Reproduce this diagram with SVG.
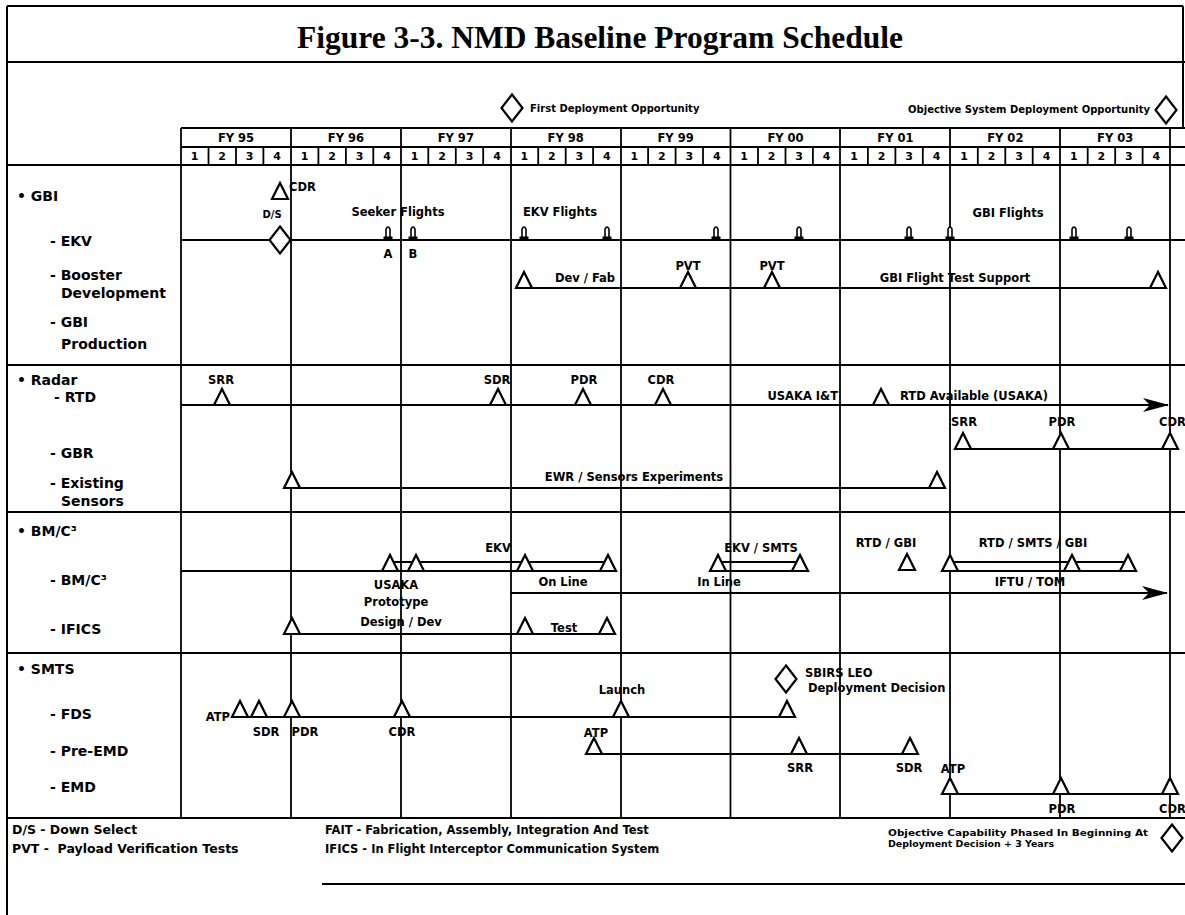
<svg xmlns="http://www.w3.org/2000/svg" width="1185" height="915" viewBox="0 0 1185 915">
<style>
.ln{stroke:#000;stroke-width:2;fill:none}
.gl{stroke:#000;stroke-width:1.8;fill:none}
.mk{fill:#fff;stroke:#000;stroke-width:2.2}
text{font-family:"DejaVu Sans","Liberation Sans",sans-serif;font-weight:bold;fill:#000}
.title{font-family:"Liberation Serif","Times New Roman",serif;font-size:31.5px;text-anchor:middle}
.lab{font-size:14px}
.s{font-size:11.5px;text-anchor:middle}
.sl{font-size:11.5px}
.fy{font-size:11.5px;text-anchor:middle}
.q{font-size:11px;text-anchor:middle}
.tiny{font-size:10px}
.lg{font-size:11.5px}
.lgl{font-size:12.5px}
.lg2{font-size:9.5px}
</style>
<defs>
<path id="tri" class="mk" d="M0,-16 L-8,0 L8,0 Z"/>
<path id="dia" class="mk" d="M0,-13.5 L10.5,0 L0,13.5 L-10.5,0 Z"/>
<g id="rk"><path d="M-2,-2 L-2,-11 Q0,-15 2,-11 L2,-2 Z" fill="#fff" stroke="#000" stroke-width="1.6"/><rect x="-4.5" y="-3.5" width="9" height="3.5" fill="#000"/></g>
<marker id="ah" viewBox="0 0 26 14" refX="25" refY="7" markerWidth="26" markerHeight="14" markerUnits="userSpaceOnUse" orient="auto"><path d="M0,0 L26,7 L0,14 L7,7 Z" fill="#000"/></marker>
</defs>
<rect x="0" y="0" width="1185" height="915" fill="#fff"/>

<g id="frame">
<line class="ln" x1="7" y1="6" x2="1183" y2="6"/>
<line class="ln" x1="7" y1="6" x2="7" y2="915"/>
<line class="ln" x1="1183" y1="6" x2="1183" y2="128"/>
<line class="ln" x1="7" y1="62" x2="1185" y2="62"/>
<text class="title" x="600" y="48">Figure 3-3. NMD Baseline Program Schedule</text>
</g>

<g id="deploy-first"><use href="#dia" x="512" y="108"/><text class="tiny" x="530" y="112">First Deployment Opportunity</text></g>
<g id="deploy-objective"><use href="#dia" x="1166" y="110"/><text class="tiny" x="1150" y="113" text-anchor="end" font-size="10.5">Objective System Deployment Opportunity</text></g>

<g id="header">
<line class="gl" x1="181" y1="128" x2="1185" y2="128"/>
<line class="gl" x1="181" y1="147" x2="1185" y2="147"/>
<g class="gl">
<line x1="208.5" y1="147" x2="208.5" y2="165"/><line x1="236" y1="147" x2="236" y2="165"/><line x1="263.4" y1="147" x2="263.4" y2="165"/>
<line x1="318.4" y1="147" x2="318.4" y2="165"/><line x1="345.9" y1="147" x2="345.9" y2="165"/><line x1="373.3" y1="147" x2="373.3" y2="165"/>
<line x1="428.3" y1="147" x2="428.3" y2="165"/><line x1="455.8" y1="147" x2="455.8" y2="165"/><line x1="483.2" y1="147" x2="483.2" y2="165"/>
<line x1="538.2" y1="147" x2="538.2" y2="165"/><line x1="565.7" y1="147" x2="565.7" y2="165"/><line x1="593.1" y1="147" x2="593.1" y2="165"/>
<line x1="648.1" y1="147" x2="648.1" y2="165"/><line x1="675.6" y1="147" x2="675.6" y2="165"/><line x1="703" y1="147" x2="703" y2="165"/>
<line x1="758" y1="147" x2="758" y2="165"/><line x1="785.5" y1="147" x2="785.5" y2="165"/><line x1="812.9" y1="147" x2="812.9" y2="165"/>
<line x1="867.9" y1="147" x2="867.9" y2="165"/><line x1="895.4" y1="147" x2="895.4" y2="165"/><line x1="922.8" y1="147" x2="922.8" y2="165"/>
<line x1="977.8" y1="147" x2="977.8" y2="165"/><line x1="1005.3" y1="147" x2="1005.3" y2="165"/><line x1="1032.7" y1="147" x2="1032.7" y2="165"/>
<line x1="1087.7" y1="147" x2="1087.7" y2="165"/><line x1="1115.2" y1="147" x2="1115.2" y2="165"/><line x1="1142.6" y1="147" x2="1142.6" y2="165"/>
</g>
<text class="fy" x="236" y="142">FY 95</text><text class="fy" x="345.9" y="142">FY 96</text><text class="fy" x="455.8" y="142">FY 97</text>
<text class="fy" x="565.7" y="142">FY 98</text><text class="fy" x="675.6" y="142">FY 99</text><text class="fy" x="785.5" y="142">FY 00</text>
<text class="fy" x="895.4" y="142">FY 01</text><text class="fy" x="1005.3" y="142">FY 02</text><text class="fy" x="1115.2" y="142">FY 03</text>
<g class="q">
<text x="194.7" y="160">1</text><text x="222.2" y="160">2</text><text x="249.7" y="160">3</text><text x="277.2" y="160">4</text>
<text x="304.6" y="160">1</text><text x="332.1" y="160">2</text><text x="359.6" y="160">3</text><text x="387.1" y="160">4</text>
<text x="414.5" y="160">1</text><text x="442" y="160">2</text><text x="469.5" y="160">3</text><text x="497" y="160">4</text>
<text x="524.4" y="160">1</text><text x="551.9" y="160">2</text><text x="579.4" y="160">3</text><text x="606.9" y="160">4</text>
<text x="634.3" y="160">1</text><text x="661.8" y="160">2</text><text x="689.3" y="160">3</text><text x="716.8" y="160">4</text>
<text x="744.2" y="160">1</text><text x="771.7" y="160">2</text><text x="799.2" y="160">3</text><text x="826.7" y="160">4</text>
<text x="854.1" y="160">1</text><text x="881.6" y="160">2</text><text x="909.1" y="160">3</text><text x="936.6" y="160">4</text>
<text x="964" y="160">1</text><text x="991.5" y="160">2</text><text x="1019" y="160">3</text><text x="1046.5" y="160">4</text>
<text x="1073.9" y="160">1</text><text x="1101.4" y="160">2</text><text x="1128.9" y="160">3</text><text x="1156.4" y="160">4</text>
</g>
</g>

<g id="grid">
<line class="ln" x1="7" y1="165" x2="1185" y2="165"/>
<line class="ln" x1="7" y1="365" x2="1185" y2="365"/>
<line class="ln" x1="7" y1="512" x2="1185" y2="512"/>
<line class="ln" x1="7" y1="653" x2="1185" y2="653"/>
<line class="ln" x1="7" y1="818" x2="1185" y2="818"/>
<g class="gl">
<line x1="181" y1="128" x2="181" y2="818"/><line x1="291" y1="128" x2="291" y2="818"/><line x1="401" y1="128" x2="401" y2="818"/>
<line x1="511" y1="128" x2="511" y2="818"/><line x1="621" y1="128" x2="621" y2="818"/><line x1="730.5" y1="128" x2="730.5" y2="818"/>
<line x1="840" y1="128" x2="840" y2="818"/><line x1="950" y1="128" x2="950" y2="818"/><line x1="1060" y1="128" x2="1060" y2="818"/>
<line x1="1170" y1="128" x2="1170" y2="818"/>
</g>
</g>

<g id="labels">
<text class="lab" x="17" y="201">• GBI</text>
<text class="lab" x="50" y="246">- EKV</text>
<text class="lab" x="50" y="280">- Booster</text>
<text class="lab" x="61" y="298">Development</text>
<text class="lab" x="50" y="327">- GBI</text>
<text class="lab" x="61" y="349">Production</text>
<text class="lab" x="17" y="385">• Radar</text>
<text class="lab" x="54" y="402">- RTD</text>
<text class="lab" x="50" y="458">- GBR</text>
<text class="lab" x="50" y="488">- Existing</text>
<text class="lab" x="61" y="506">Sensors</text>
<text class="lab" x="17" y="536">• BM/C³</text>
<text class="lab" x="50" y="585">- BM/C³</text>
<text class="lab" x="50" y="634">- IFICS</text>
<text class="lab" x="17" y="674">• SMTS</text>
<text class="lab" x="50" y="719">- FDS</text>
<text class="lab" x="50" y="756">- Pre-EMD</text>
<text class="lab" x="50" y="792">- EMD</text>
</g>

<g id="connectors">
<line class="ln" x1="181" y1="240" x2="1185" y2="240"/>
<line class="ln" x1="517" y1="288" x2="1163" y2="288"/>
<line class="ln" x1="181" y1="405" x2="1168" y2="405" marker-end="url(#ah)"/>
<line class="ln" x1="955" y1="449" x2="1175" y2="449"/>
<line class="ln" x1="286" y1="488" x2="943" y2="488"/>
<line class="ln" x1="181" y1="571" x2="616" y2="571"/>
<line class="ln" x1="390" y1="562" x2="608" y2="562"/>
<line class="ln" x1="718" y1="562" x2="800" y2="562"/>
<line class="ln" x1="712" y1="571" x2="806" y2="571"/>
<line class="ln" x1="950" y1="562" x2="1128" y2="562"/>
<line class="ln" x1="944" y1="571" x2="1134" y2="571"/>
<line class="ln" x1="511" y1="593" x2="1167" y2="593" marker-end="url(#ah)"/>
<line class="ln" x1="286" y1="634" x2="613" y2="634"/>
<line class="ln" x1="234" y1="717" x2="793" y2="717"/>
<line class="ln" x1="588" y1="754" x2="916" y2="754"/>
<line class="ln" x1="944" y1="794" x2="1177" y2="794"/>
</g>

<g id="gbi-cdr"><use href="#tri" x="280" y="199"/><text class="sl" x="289" y="191">CDR</text></g>
<g id="gbi-ds"><text class="tiny" x="272" y="218" text-anchor="middle">D/S</text><use href="#dia" x="280" y="240"/></g>
<g id="seeker-flights"><text class="s" x="398" y="216">Seeker Flights</text>
<use href="#rk" x="388" y="240"/><use href="#rk" x="413" y="240"/>
<text class="s" x="388" y="258">A</text><text class="s" x="413" y="258">B</text></g>
<g id="ekv-flights"><text class="s" x="560" y="216">EKV Flights</text>
<use href="#rk" x="524" y="240"/><use href="#rk" x="607" y="240"/><use href="#rk" x="716" y="240"/><use href="#rk" x="799" y="240"/></g>
<g id="gbi-flights"><text class="s" x="1008" y="217">GBI Flights</text>
<use href="#rk" x="909" y="240"/><use href="#rk" x="950" y="240"/><use href="#rk" x="1074" y="240"/><use href="#rk" x="1129" y="240"/></g>

<g id="booster"><use href="#tri" x="524" y="288"/><text class="s" x="585" y="282">Dev / Fab</text>
<use href="#tri" x="688" y="288"/><text class="s" x="688" y="270">PVT</text>
<use href="#tri" x="772" y="288"/><text class="s" x="772" y="270">PVT</text>
<text class="s" x="955" y="282" font-size="12.5">GBI Flight Test Support</text>
<use href="#tri" x="1158" y="288"/></g>

<g id="rtd">
<use href="#tri" x="222" y="405"/><text class="s" x="221" y="384">SRR</text>
<use href="#tri" x="498" y="405"/><text class="s" x="497" y="384">SDR</text>
<use href="#tri" x="583" y="405"/><text class="s" x="584" y="384">PDR</text>
<use href="#tri" x="663" y="405"/><text class="s" x="661" y="384">CDR</text>
<text class="sl" x="838" y="400" text-anchor="end">USAKA I&amp;T</text>
<use href="#tri" x="881" y="405"/><text class="sl" x="900" y="400" font-size="12.2">RTD Available (USAKA)</text>
</g>
<g id="gbr">
<use href="#tri" x="963" y="449"/><text class="s" x="964" y="426">SRR</text>
<use href="#tri" x="1061" y="449"/><text class="s" x="1062" y="426">PDR</text>
<use href="#tri" x="1170" y="449"/><text class="sl" x="1159" y="426">CDR</text>
</g>
<g id="existing"><use href="#tri" x="292" y="488"/><text class="s" x="634" y="481">EWR / Sensors Experiments</text><use href="#tri" x="937" y="488"/></g>

<g id="bmc3">
<use href="#tri" x="390" y="571"/><use href="#tri" x="416" y="571"/>
<text class="s" x="396" y="589">USAKA</text><text class="s" x="396" y="606">Prototype</text>
<text class="s" x="498" y="552">EKV</text>
<use href="#tri" x="525" y="571"/><use href="#tri" x="608" y="571"/>
<text class="s" x="563" y="586">On Line</text>
<text class="s" x="719" y="586">In Line</text>
<text class="s" x="761" y="552">EKV / SMTS</text>
<use href="#tri" x="718" y="571"/><use href="#tri" x="800" y="571"/>
<text class="s" x="886" y="547">RTD / GBI</text><use href="#tri" x="907" y="570"/>
<text class="s" x="1033" y="547">RTD / SMTS / GBI</text>
<use href="#tri" x="950" y="571"/><use href="#tri" x="1072" y="571"/><use href="#tri" x="1128" y="571"/>
<text class="s" x="1030" y="586">IFTU / TOM</text>
</g>
<g id="ifics">
<use href="#tri" x="292" y="634"/><text class="s" x="401" y="626">Design / Dev</text>
<use href="#tri" x="525" y="634"/><text class="s" x="564" y="632">Test</text>
<use href="#tri" x="607" y="634"/>
</g>

<g id="fds">
<text class="sl" x="230" y="721" text-anchor="end">ATP</text>
<use href="#tri" x="240" y="717"/><use href="#tri" x="259" y="717"/><use href="#tri" x="292" y="717"/>
<text class="s" x="266" y="736">SDR</text><text class="s" x="305" y="736">PDR</text>
<use href="#tri" x="402" y="717"/><text class="s" x="402" y="736">CDR</text>
<use href="#tri" x="621" y="717"/><text class="s" x="622" y="694">Launch</text>
<use href="#tri" x="787" y="717"/>
</g>
<g id="sbirs"><use href="#dia" x="786" y="679"/><text class="sl" x="805" y="677">SBIRS LEO</text><text class="sl" x="808" y="692">Deployment Decision</text></g>
<g id="pre-emd">
<text class="s" x="596" y="737">ATP</text><use href="#tri" x="594" y="754"/>
<use href="#tri" x="799" y="754"/><text class="s" x="800" y="772">SRR</text>
<use href="#tri" x="910" y="754"/><text class="s" x="909" y="772">SDR</text>
</g>
<g id="emd">
<text class="s" x="953" y="773">ATP</text><use href="#tri" x="950" y="794"/>
<use href="#tri" x="1061" y="794"/><text class="s" x="1062" y="813">PDR</text>
<use href="#tri" x="1170" y="794"/><text class="sl" x="1159" y="813">CDR</text>
</g>

<g id="legend">
<text class="lgl" x="12" y="834">D/S - Down Select</text>
<text class="lgl" x="12" y="853" xml:space="preserve">PVT -  Payload Verification Tests</text>
<text class="lg" x="325" y="834">FAIT - Fabrication, Assembly, Integration And Test</text>
<text class="lg" x="325" y="853">IFICS - In Flight Interceptor Communication System</text>
<text class="lg2" x="888" y="836" textLength="260" lengthAdjust="spacingAndGlyphs">Objective Capability Phased In Beginning At</text>
<text class="lg2" x="888" y="847" textLength="166" lengthAdjust="spacingAndGlyphs">Deployment Decision + 3 Years</text>
<use href="#dia" x="1172" y="838"/>
<line class="ln" x1="322" y1="884" x2="1185" y2="884"/>
</g>
</svg>
